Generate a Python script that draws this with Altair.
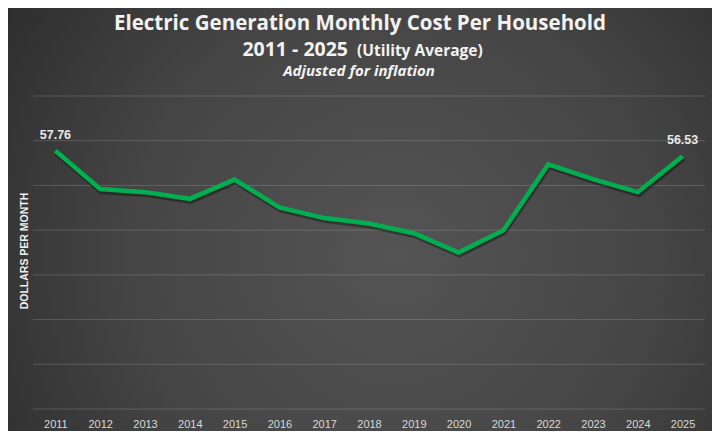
import altair as alt
import pandas as pd

years = ["2011", "2012", "2013", "2014", "2015", "2016", "2017", "2018",
         "2019", "2020", "2021", "2022", "2023", "2024", "2025"]
cost = [57.76, 49.2, 48.5, 47.0, 51.3, 45.1, 42.7, 41.5,
        39.3, 35.0, 40.0, 54.7, 51.4, 48.5, 56.53]
grid_values = [0, 10, 20, 30, 40, 50, 60, 70]
label_years = ["2011", "2025"]

title_1 = "Electric Generation Monthly Cost Per Household"
title_2a = "2011 - 2025"
title_2b = "(Utility Average)"
title_3 = "Adjusted for inflation"
y_title = "DOLLARS PER MONTH"

W, H = 672, 313
PAD = {"left": 25, "top": 88, "right": 7, "bottom": 22}

df = pd.DataFrame({"year": years, "cost": cost})
one = pd.DataFrame({"k": [0]})

ysc = alt.Scale(domain=[0, 70])

gradient = {
    "gradient": "radial",
    "x1": 0.55, "y1": 0.55, "r1": 0,
    "x2": 0.55, "y2": 0.55, "r2": 0.75,
    "stops": [
        {"offset": 0, "color": "#545454"},
        {"offset": 0.5, "color": "#454545"},
        {"offset": 1, "color": "#262626"},
    ],
}

y_axis = alt.Axis(
    title=y_title, labels=False, ticks=False, domain=False, grid=False,
    titleColor="#f0f0f0", titleFont="Liberation Sans", titleFontSize=10.5,
    titleFontWeight="bold", titleX=-9, titleY=H / 2 - 2, titleAngle=-90,
    titleAlign="center", titleBaseline="middle", zindex=1,
)

bg = alt.Chart(one).mark_rect(fill=gradient).encode(
    x=alt.value(-PAD["left"]), x2=alt.value(W + PAD["right"]),
    y=alt.value(-PAD["top"]), y2=alt.value(H + PAD["bottom"]),
)

grid = alt.Chart(pd.DataFrame({"v": grid_values})).mark_rule(
    color="#ffffff", opacity=0.16, strokeWidth=1
).encode(
    y=alt.Y("v:Q", scale=ysc, axis=y_axis),
    x=alt.value(0), x2=alt.value(W),
)

x_enc = alt.X("year:O", axis=alt.Axis(
    title=None, labelAngle=0, labelColor="#d9d9d9", labelFont="Liberation Sans",
    labelFontSize=11, labelPadding=9, ticks=False, domain=False, grid=False, zindex=1,
))
y_enc = alt.Y("cost:Q", scale=ysc, axis=y_axis)

shadow = alt.Chart(df).mark_line(
    color="#000000", opacity=0.35, strokeWidth=5, xOffset=1, yOffset=2.5
).encode(x=x_enc, y=y_enc)

line = alt.Chart(df).mark_line(color="#00B050", strokeWidth=4.5).encode(x=x_enc, y=y_enc)

labels = alt.Chart(df).transform_filter(
    alt.FieldOneOfPredicate(field="year", oneOf=label_years)
).mark_text(
    dy=-16, fontWeight="bold", fontSize=12.5, color="#e8e8e8", font="Liberation Sans"
).encode(x=x_enc, y=y_enc, text=alt.Text("cost:Q", format=".2f"))

cx = 360 - 33
t1 = alt.Chart(one).mark_text(
    text=title_1, font="Open Sans", fontSize=20.5, fontWeight="bold",
    color="#f2f2f2", align="center", baseline="alphabetic"
).encode(x=alt.value(cx), y=alt.value(30 - 96))
t2a = alt.Chart(one).mark_text(
    text=title_2a, font="Open Sans", fontSize=19.5, fontWeight="bold",
    color="#f2f2f2", align="right", baseline="alphabetic"
).encode(x=alt.value(348 - 33), y=alt.value(56 - 96))
t2b = alt.Chart(one).mark_text(
    text=title_2b, font="Open Sans", fontSize=15.5, fontWeight="bold",
    color="#f2f2f2", align="left", baseline="alphabetic"
).encode(x=alt.value(357 - 33), y=alt.value(56 - 96))
t3 = alt.Chart(one).mark_text(
    text=title_3, font="Open Sans", fontSize=15, fontWeight="bold", fontStyle="italic",
    color="#f2f2f2", align="center", baseline="alphabetic"
).encode(x=alt.value(359 - 33), y=alt.value(76 - 96))

chart = alt.layer(bg, grid, shadow, line, labels, t1, t2a, t2b, t3).properties(
    width=W, height=H, padding=PAD, background="#2e2e2e",
    autosize=alt.AutoSizeParams(type="none"),
).configure_view(stroke=None)

chart.save("out.html", embed_options={"renderer": "svg", "actions": False})
